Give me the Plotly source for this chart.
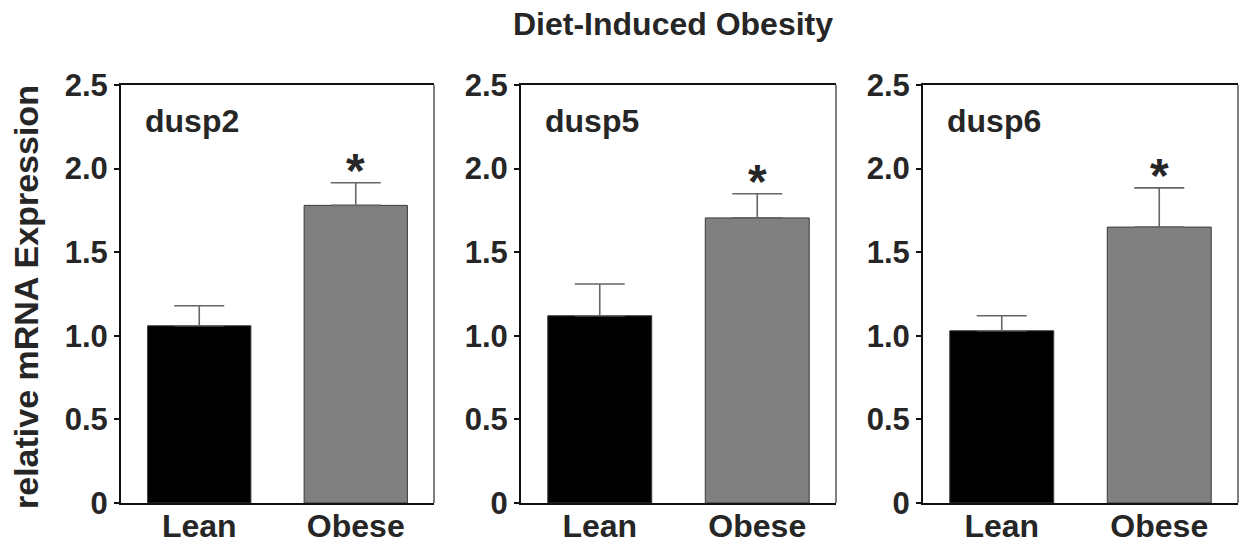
import plotly.graph_objects as go

# ---- data ----
categories = ["Lean", "Obese"]
genes = ["dusp2", "dusp5", "dusp6"]
means = {
    "dusp2": [1.06, 1.78],
    "dusp5": [1.12, 1.705],
    "dusp6": [1.03, 1.65],
}
sems = {
    "dusp2": [0.12, 0.135],
    "dusp5": [0.19, 0.145],
    "dusp6": [0.09, 0.235],
}
significant = {
    "dusp2": [False, True],
    "dusp5": [False, True],
    "dusp6": [False, True],
}
y_tickvals = [0, 0.5, 1.0, 1.5, 2.0, 2.5]
y_ticktext = ["0", "0.5", "1.0", "1.5", "2.0", "2.5"]
title_text = "Diet-Induced Obesity"
y_title = "relative mRNA Expression"

# ---- style ----
FONT = "Liberation Sans, Arial, Helvetica, sans-serif"
TXT = "#262626"
bar_colors = ["#000000", "#808080"]
W, H = 1243, 544
x_domains = [[121 / W, 434 / W], [521 / W, 836 / W], [923 / W, 1238 / W]]
y_domain = [1 - 503 / H, 1 - 85 / H]

fig = go.Figure()
layout_axes = {}
annotations = []
shapes = []

for i, g in enumerate(genes):
    n = "" if i == 0 else str(i + 1)
    xa, ya = "x" + n, "y" + n
    fig.add_trace(go.Bar(
        x=categories, y=means[g],
        marker=dict(color=bar_colors, line=dict(color="#3a3a3a", width=1)),
        width=0.66,
        error_y=dict(type="data", array=sems[g], arrayminus=[0, 0],
                     symmetric=False, color="#666666", thickness=1.6, width=25),
        xaxis=xa, yaxis=ya, showlegend=False,
    ))
    layout_axes["xaxis" + n] = dict(
        domain=x_domains[i], anchor=ya, type="category", automargin=False,
        range=[-0.5, 1.5], showline=True, linecolor="#111111", linewidth=2,
        mirror=True, ticks="", showgrid=False, zeroline=False,
        tickfont=dict(family=FONT, size=32, color=TXT, weight="bold"),
        ticklabelstandoff=-6,
    )
    layout_axes["yaxis" + n] = dict(
        domain=y_domain, anchor=xa, range=[0, 2.5], automargin=False,
        showline=True, linecolor="#111111", linewidth=2,
        ticks="outside", ticklen=5, tickwidth=2, tickcolor="#111111",
        tickvals=y_tickvals, ticktext=y_ticktext,
        showgrid=False, zeroline=False,
        tickfont=dict(family=FONT, size=31, color=TXT, weight="bold"),
        ticklabelstandoff=0,
    )
    # right frame line (thin grey)
    shapes.append(dict(type="line", xref=xa + " domain", yref=ya + " domain",
                       x0=1, x1=1, y0=0, y1=1,
                       line=dict(color="#555555", width=1.5)))
    # gene label
    annotations.append(dict(
        text=g, xref=xa + " domain", yref=ya + " domain",
        x=0.07, y=0.914, xanchor="left", yanchor="middle", showarrow=False,
        font=dict(family=FONT, size=32, color=TXT, weight="bold"),
    ))
    # significance stars
    for c, m, s, sig in zip(categories, means[g], sems[g], significant[g]):
        if sig:
            annotations.append(dict(
                text="*", xref=xa, yref=ya, x=c, y=m + s,
                xanchor="center", yanchor="middle", yshift=12, showarrow=False,
                font=dict(family=FONT, size=48, color=TXT, weight="bold"),
            ))

annotations.append(dict(
    text=title_text, xref="paper", yref="paper", x=673 / W, y=1 - 24 / H,
    xanchor="center", yanchor="middle", showarrow=False,
    font=dict(family=FONT, size=32, color=TXT, weight="bold"),
))
annotations.append(dict(
    text=y_title, xref="paper", yref="paper", x=26 / W, y=1 - 297 / H,
    xanchor="center", yanchor="middle", textangle=-90, showarrow=False,
    font=dict(family=FONT, size=34, color=TXT, weight="bold"),
))

fig.update_layout(
    width=W, height=H,
    margin=dict(l=0, r=0, t=0, b=0),
    paper_bgcolor="white", plot_bgcolor="white",
    annotations=annotations, shapes=shapes,
    bargap=0.35,
    **layout_axes,
)

fig.write_html(
    "out.html",
    config={"displayModeBar": False},
    post_script="document.body.style.margin='0';document.body.style.overflow='hidden';",
)
